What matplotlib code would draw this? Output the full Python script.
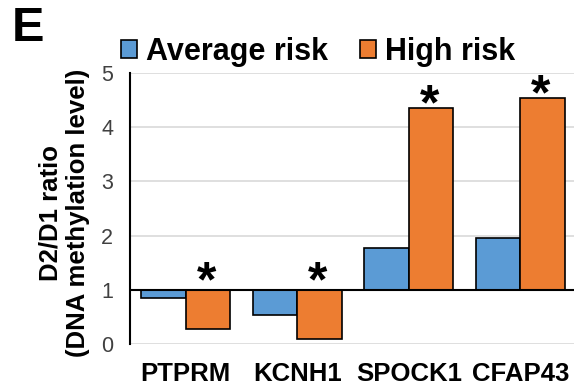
import matplotlib.pyplot as plt
import numpy as np
from matplotlib.patches import Patch

plt.rcParams['font.family'] = ['Liberation Sans', 'DejaVu Sans']

#data
genes = ["PTPRM", "KCNH1", "SPOCK1", "CFAP43"]
average_risk = [0.85, 0.53, 1.78, 1.96]
high_risk = [0.28, 0.09, 4.35, 4.54]
significant = [True, True, True, True]
y_ticks = [0, 1, 2, 3, 4, 5]

#colors
blue = "#5B9BD5"
orange = "#ED7D31"

fig = plt.figure(figsize=(5.74, 3.87), dpi=100)
ax = fig.add_axes([130/574, 43/387, 446/574, 271/387])

x = np.arange(len(genes))
w = 0.4
base = 1.0
avg = np.array(average_risk)
high = np.array(high_risk)

#bars grow up or down from the ratio = 1 baseline
ax.bar(x - w/2, avg - base, w, bottom=base, color=blue, edgecolor="black", linewidth=1.2, zorder=3)
ax.bar(x + w/2, high - base, w, bottom=base, color=orange, edgecolor="black", linewidth=1.2, zorder=3)

#significance stars
for i, sig in enumerate(significant):
    if sig:
        off = -5 if high[i] < base else -8
        ax.annotate("*", (x[i] + w/2 - 0.015, max(high[i], base)), xytext=(0, off),
                    textcoords="offset points", ha="center", va="baseline",
                    fontsize=36, fontweight="bold", zorder=4)

#axes styling
ax.set_xlim(-0.5, 3.5)
ax.set_ylim(0, 5)
ax.set_yticks(y_ticks)
ax.set_yticklabels([str(t) for t in y_ticks], fontsize=15.5, color="#404040")
ax.set_xticks(x)
ax.set_xticklabels(genes, fontsize=18.5, fontweight="bold")
ax.tick_params(axis="both", length=0)
ax.tick_params(axis="x", pad=13)
ax.tick_params(axis="y", pad=12)
ax.grid(axis="y", color="#d9d9d9", linewidth=1.2, zorder=0)
ax.axhline(base, color="black", linewidth=1.5, zorder=4)
for s in ["top", "right", "bottom"]:
    ax.spines[s].set_visible(False)
ax.spines["left"].set_linewidth(1.5)
ax.spines["left"].set_zorder(5)

fig.text(64/574, 1 - 213/387, "D2/D1 ratio\n(DNA methylation level)", rotation=90,
         ha="center", va="center", multialignment="center", fontsize=18.5,
         fontweight="bold", linespacing=1.2)

#legend
handles = [Patch(facecolor=blue, edgecolor="black", linewidth=1.2, label="Average risk"),
           Patch(facecolor=orange, edgecolor="black", linewidth=1.2, label="High risk")]
fig.legend(handles=handles, loc="center left", bbox_to_anchor=(121/574, 1 - 52/387), ncol=2,
           frameon=False, prop={"size": 22, "weight": "bold"}, handlelength=0.52,
           handleheight=0.52, handletextpad=0.3, columnspacing=1.05, borderpad=0, borderaxespad=0)

fig.text(12/574, 1 - 6/387, "E", fontsize=35, fontweight="bold", ha="left", va="top")

fig.savefig("out.png", dpi=100)
